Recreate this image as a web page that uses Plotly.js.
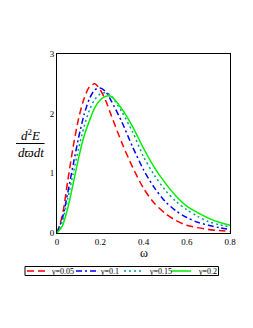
<!DOCTYPE html>
<html>
<head>
<meta charset="utf-8">
<script src="https://cdn.plot.ly/plotly-3.0.1.min.js"></script>
<style>html,body{margin:0;padding:0;background:#fff;}#chart{width:253px;height:328px;}</style>
</head>
<body>
<div id="chart"></div>
<script>
const omega = [0, 0.025, 0.05, 0.075, 0.1, 0.125, 0.15, 0.175, 0.2, 0.225, 0.25, 0.3, 0.35, 0.4, 0.45, 0.5, 0.55, 0.6, 0.65, 0.7, 0.75, 0.8];
const seriesNames = ["γ=0.05", "γ=0.1", "γ=0.15", "γ=0.2"];
const gamma005 = [0, 0.3, 0.88, 1.45, 1.92, 2.25, 2.45, 2.5, 2.4, 2.22, 1.98, 1.51, 1.1, 0.75, 0.5, 0.33, 0.21, 0.13, 0.09, 0.06, 0.04, 0.03];
const gamma01  = [0, 0.25, 0.68, 1.15, 1.6, 1.98, 2.25, 2.4, 2.43, 2.37, 2.22, 1.86, 1.44, 1.06, 0.76, 0.53, 0.37, 0.26, 0.18, 0.13, 0.09, 0.06];
const gamma015 = [0, 0.2, 0.58, 1.0, 1.42, 1.78, 2.06, 2.24, 2.33, 2.35, 2.3, 2.03, 1.69, 1.28, 0.97, 0.72, 0.53, 0.39, 0.28, 0.19, 0.14, 0.1];
const gamma02  = [0, 0.12, 0.42, 0.83, 1.26, 1.62, 1.88, 2.1, 2.23, 2.29, 2.29, 2.08, 1.78, 1.42, 1.1, 0.84, 0.62, 0.45, 0.34, 0.25, 0.18, 0.13];
const xTicks = [0, 0.2, 0.4, 0.6, 0.8];
const xTickText = ["0", "0.2", "0.4", "0.6", "0.8"];
const yTicks = [0, 1, 2, 3];
const yTickText = ["0", "1", "2", "3"];

const series = [gamma005, gamma01, gamma015, gamma02];
const colors = ["#ff0000", "#0000ff", "#009999", "#00ee00"];
const dashes = ["7px,4px", "6px,3px,2px,3px", "2px,3px", "solid"];
const serif = "Liberation Serif, Times New Roman, serif";

const traces = series.map((ys, i) => ({
  x: omega, y: ys, type: "scatter", mode: "lines", name: seriesNames[i],
  line: {color: colors[i], width: 1.5, dash: dashes[i], shape: "spline", smoothing: 0.8},
  showlegend: false, hoverinfo: "skip"
}));

// plot area in pixels: x 57..230, y 54..233
const L = 57, T = 54, W = 173, H = 179;
const px = v => (v - L) / W;
const py = v => (T + H - v) / H;

const shapes = [
  {type: "line", xref: "paper", yref: "paper", x0: px(16), x1: px(44.5), y0: py(143.5), y1: py(143.5), line: {color: "#000", width: 1}},
  {type: "rect", xref: "paper", yref: "paper", x0: px(25), x1: px(218.5), y0: py(266.5), y1: py(275.5), line: {color: "#000", width: 1}}
];
const legLineX = [[27, 47], [76, 96.5], [124, 144], [171, 191]];
const legTextX = [49.5, 99, 147.5, 196.5];
const annotations = [
  {xref: "paper", yref: "paper", x: px(30.5), y: py(135), text: "<i>d</i><sup>2</sup><i>E</i>", showarrow: false, xanchor: "center", yanchor: "middle", borderpad: 0, font: {family: serif, size: 13, color: "#000"}},
  {xref: "paper", yref: "paper", x: px(30.5), y: py(152), text: "<i>dϖdt</i>", showarrow: false, xanchor: "center", yanchor: "middle", borderpad: 0, font: {family: serif, size: 13, color: "#000"}},
  {xref: "paper", yref: "paper", x: px(144), y: py(253), text: "ω", showarrow: false, xanchor: "center", yanchor: "middle", borderpad: 0, font: {family: serif, size: 12, color: "#000"}}
];
seriesNames.forEach((n, i) => {
  shapes.push({type: "line", xref: "paper", yref: "paper", x0: px(legLineX[i][0]), x1: px(legLineX[i][1]), y0: py(271), y1: py(271), line: {color: colors[i], width: 1.5, dash: dashes[i]}});
  annotations.push({xref: "paper", yref: "paper", x: px(legTextX[i]), y: py(271), text: n, showarrow: false, xanchor: "left", yanchor: "middle", borderpad: 0, font: {family: serif, size: 8, color: "#000"}});
});

const layout = {
  width: 253, height: 328,
  margin: {l: L, r: 253 - L - W, t: T, b: 328 - T - H, pad: 0},
  paper_bgcolor: "#fff", plot_bgcolor: "#fff",
  showlegend: false,
  font: {family: serif, size: 9, color: "#000"},
  xaxis: {range: [0, 0.8], tickvals: xTicks, ticktext: xTickText, showgrid: false, zeroline: false,
          showline: true, linecolor: "#000", linewidth: 1, mirror: true, ticks: "", ticklen: 0,
          tickfont: {family: serif, size: 9, color: "#000"}},
  yaxis: {range: [0, 3], tickvals: yTicks, ticktext: yTickText, showgrid: false, zeroline: false,
          showline: true, linecolor: "#000", linewidth: 1, mirror: true, ticks: "", ticklen: 0,
          tickfont: {family: serif, size: 9, color: "#000"}},
  shapes: shapes,
  annotations: annotations
};
Plotly.newPlot("chart", traces, layout, {displayModeBar: false, staticPlot: true});
</script>
</body>
</html>
